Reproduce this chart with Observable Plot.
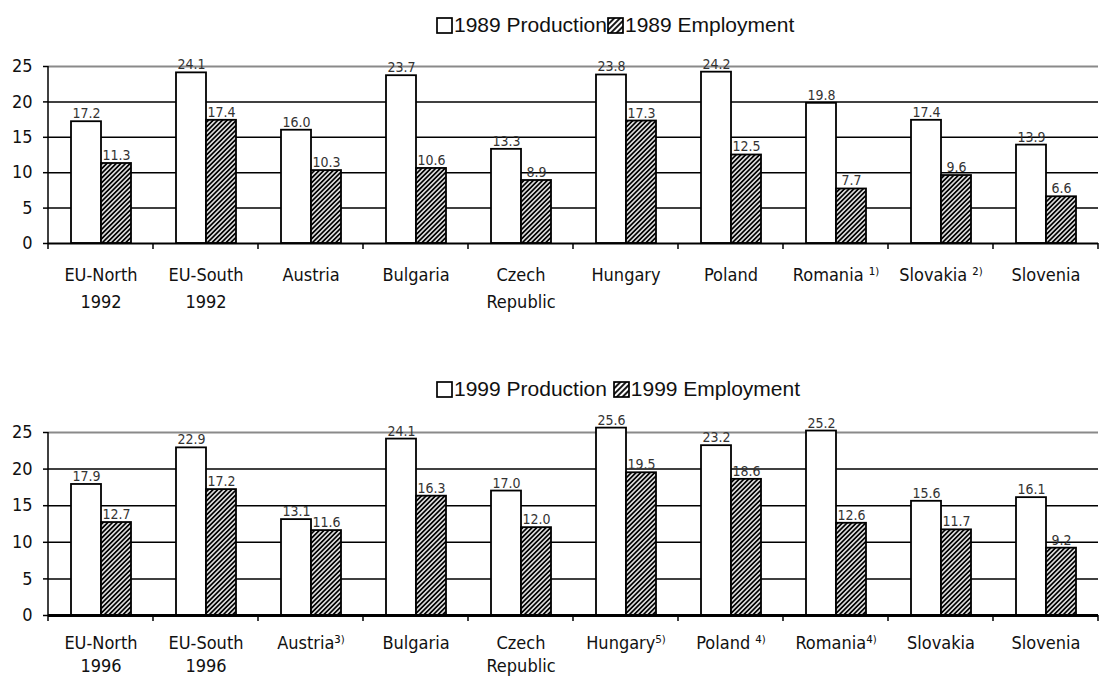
<!DOCTYPE html>
<html>
<head>
<meta charset="utf-8">
<script src="https://cdn.jsdelivr.net/npm/d3@7"></script>
<script src="https://cdn.jsdelivr.net/npm/@observablehq/plot@0.6"></script>
<style>
  body { margin: 0; background: #fff; width: 1102px; height: 680px; position: relative; overflow: hidden; }
  .legend { position: absolute; display: flex; align-items: center; white-space: pre;
            font-family: "Liberation Sans", Arial, sans-serif; font-size: 21px; color: #111; }
  .legend svg { display: block; margin-right: 1px; }
  .chart { position: absolute; left: 0; }
</style>
</head>
<body>
<div id="legend1" class="legend" style="left:436px; top:13px;"></div>
<div id="chart1" class="chart" style="top:40px;"></div>
<div id="legend2" class="legend" style="left:436px; top:377px;"></div>
<div id="chart2" class="chart" style="top:400px;"></div>
<script>
// Production and employment shares, two periods
const countries1 = ["EU-North\n1992", "EU-South\n1992", "Austria", "Bulgaria", "Czech\nRepublic",
                    "Hungary", "Poland", "Romania ¹⁾", "Slovakia ²⁾", "Slovenia"];
const production1989 = [17.2, 24.1, 16.0, 23.7, 13.3, 23.8, 24.2, 19.8, 17.4, 13.9];
const employment1989 = [11.3, 17.4, 10.3, 10.6, 8.9, 17.3, 12.5, 7.7, 9.6, 6.6];
const series1 = ["1989 Production", "1989 Employment"];

const countries2 = ["EU-North\n1996", "EU-South\n1996", "Austria³⁾", "Bulgaria", "Czech\nRepublic",
                    "Hungary⁵⁾", "Poland ⁴⁾", "Romania⁴⁾", "Slovakia", "Slovenia"];
const production1999 = [17.9, 22.9, 13.1, 24.1, 17.0, 25.6, 23.2, 25.2, 15.6, 16.1];
const employment1999 = [12.7, 17.2, 11.6, 16.3, 12.0, 19.5, 18.6, 12.6, 11.7, 9.2];
const series2 = ["1999 Production", "1999 Employment"];

const yTicks = [0, 5, 10, 15, 20, 25];
const narrow = `"Liberation Sans Narrow", "Arial Narrow", "DejaVu Sans Condensed", sans-serif`;

function hatchPattern(parent, id, spacing, width) {
  const p = parent.append("pattern")
    .attr("id", id).attr("patternUnits", "userSpaceOnUse")
    .attr("width", spacing).attr("height", spacing)
    .attr("patternTransform", "rotate(45)");
  p.append("rect").attr("width", spacing).attr("height", spacing).attr("fill", "#fff");
  p.append("line").attr("x1", spacing / 2).attr("x2", spacing / 2).attr("y1", 0).attr("y2", spacing)
    .attr("stroke", "#000").attr("stroke-width", width);
}

function legend(el, labels, gap, id) {
  const box = (hatched) => {
    const s = d3.create("svg").attr("width", 17).attr("height", 17);
    if (hatched) hatchPattern(s.append("defs"), id, 4, 1.8);
    s.append("rect").attr("x", 1).attr("y", 1).attr("width", 15).attr("height", 15)
      .attr("fill", hatched ? `url(#${id})` : "#fff").attr("stroke", "#000").attr("stroke-width", 1.7);
    return s.node();
  };
  const root = d3.select(el);
  root.append(() => box(false));
  root.append("span").text(labels[0] + gap);
  root.append(() => box(true));
  root.append("span").text(labels[1]);
}

function drawChart(el, categories, prod, emp, labels, opts) {
  const prodRows = categories.map((c, i) => ({country: c, series: labels[0], value: prod[i]}));
  const empRows = categories.map((c, i) => ({country: c, series: labels[1], value: emp[i]}));
  const rows = prodRows.concat(empRows);
  const hatch = opts.hatchId;

  const chart = Plot.plot({
    width: 1102,
    height: 280,
    marginLeft: 44,
    marginRight: 0,
    marginTop: opts.marginTop,
    marginBottom: opts.marginBottom,
    style: {fontFamily: narrow, background: "#fff", color: "#111", overflow: "visible"},
    fx: {domain: categories, padding: 0, label: null},
    x: {domain: labels, paddingInner: 0, paddingOuter: 0.75, axis: null},
    y: {domain: [0, 25], label: null},
    marks: [
      Plot.ruleY([5, 10, 15, 20], {stroke: "#000", strokeWidth: 1.5}),
      Plot.ruleY([25], {stroke: "#8a8a8a", strokeWidth: 2}),
      Plot.barY(prodRows, {fx: "country", x: "series", y: "value", fill: "#fff", stroke: "#000", strokeWidth: 1.8}),
      Plot.barY(empRows, {fx: "country", x: "series", y: "value", fill: `url(#${hatch})`, stroke: "#000", strokeWidth: 1.8}),
      Plot.ruleY([0], {stroke: "#000", strokeWidth: opts.baseWidth}),
      Plot.text(rows, {fx: "country", x: "series", y: "value", text: d => d.value.toFixed(1),
                       dy: -8, fontSize: 14, fill: "#333"}),
      Plot.axisY({ticks: yTicks, tickSize: 5, tickPadding: 11, fontSize: 18, label: null, stroke: "#000", strokeWidth: 1.5}),
      Plot.axisFx({anchor: "bottom", tickSize: 0, tickPadding: opts.labelPadding, fontSize: 18,
                   lineHeight: opts.lineHeight, label: null})
    ]
  });

  const svg = d3.select(chart);
  hatchPattern(svg.insert("defs", ":first-child"), hatch, 3.3, 1.9);

  // category boundary ticks and the vertical value axis, placed with the chart's own scales
  const fx = chart.scale("fx");
  const y = chart.scale("y");
  const y0 = y.apply(0), y25 = y.apply(25);
  const edges = categories.map(c => fx.apply(c)).concat([fx.apply(categories[categories.length - 1]) + fx.bandwidth]);
  const g = svg.append("g").attr("stroke", "#000").attr("stroke-width", 1.5);
  g.selectAll("line.edge").data(edges).join("line")
    .attr("x1", d => d).attr("x2", d => d).attr("y1", y0).attr("y2", y0 + 6);
  g.append("line").attr("x1", edges[0]).attr("x2", edges[0]).attr("y1", y25).attr("y2", y0);

  document.getElementById(el).append(chart);
}

legend(document.getElementById("legend1"), series1, "", "lg1");
legend(document.getElementById("legend2"), series2, " ", "lg2");

drawChart("chart1", countries1, production1989, employment1989, series1,
          {marginTop: 26, marginBottom: 77, baseWidth: 2, labelPadding: 18, lineHeight: 1.5, hatchId: "hatch1"});
drawChart("chart2", countries2, production1999, employment1999, series2,
          {marginTop: 32, marginBottom: 65, baseWidth: 3, labelPadding: 18, lineHeight: 1.25, hatchId: "hatch2"});
</script>
</body>
</html>
